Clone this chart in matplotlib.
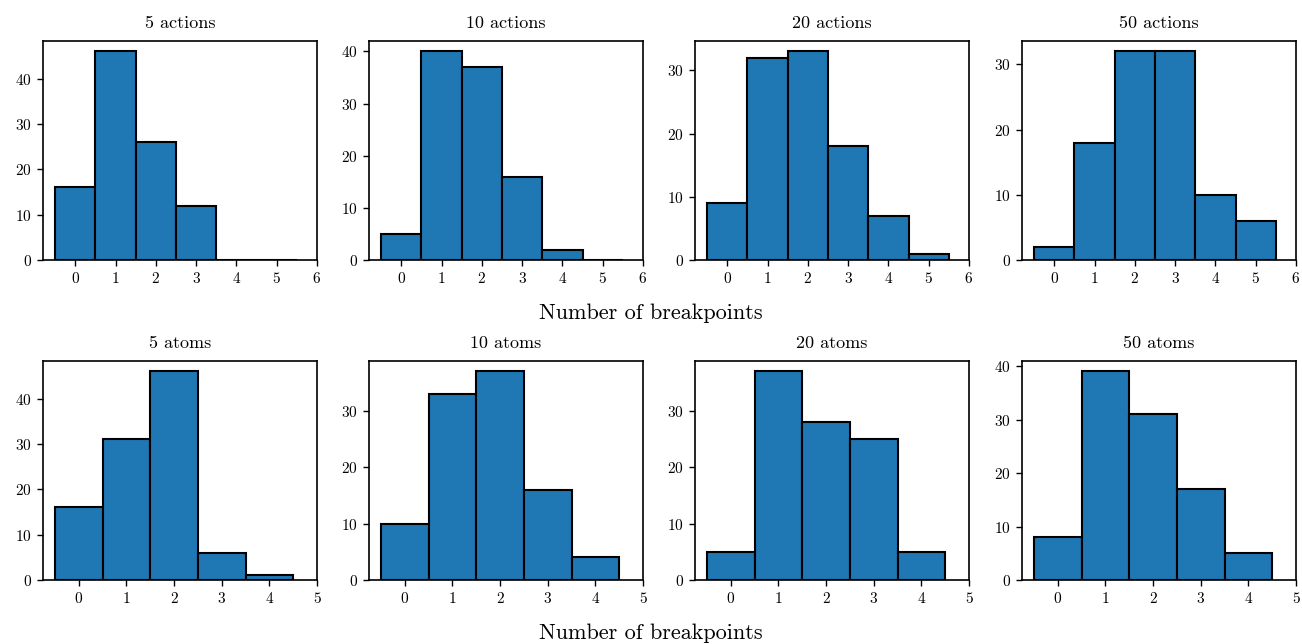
import numpy as np
import matplotlib
matplotlib.use("Agg")
import matplotlib.pyplot as plt

plt.rcParams['font.family'] = ['cmr10', 'DejaVu Serif']
plt.rcParams['mathtext.fontset'] = 'cm'
plt.rcParams['axes.formatter.use_mathtext'] = True

# breakpoint counts per setting
action_titles = ["5 actions", "10 actions", "20 actions", "50 actions"]
action_counts = [
    [16, 46, 26, 12, 0, 0],
    [5, 40, 37, 16, 2, 0],
    [9, 32, 33, 18, 7, 1],
    [2, 18, 32, 32, 10, 6],
]

atom_titles = ["5 atoms", "10 atoms", "20 atoms", "50 atoms"]
atom_counts = [
    [16, 31, 46, 6, 1],
    [10, 33, 37, 16, 4],
    [5, 37, 28, 25, 5],
    [8, 39, 31, 17, 5],
]

W, H = 1302, 644
fig = plt.figure(figsize=(W / 100, H / 100), dpi=100)

lefts = [43, 369, 695, 1022]
width = 274
rows = [(41, 260), (361, 580)]


def draw(ax, counts, title):
    x = np.arange(len(counts))
    ax.bar(x, counts, width=1.0, color='#1f77b4', edgecolor='black', linewidth=1.5)
    ax.set_xticks(np.arange(len(counts) + 1))
    ax.set_title(title, fontsize=13, pad=9)
    ax.tick_params(labelsize=11, direction='out', length=4, width=1, pad=4)
    ax.yaxis.set_major_locator(matplotlib.ticker.MultipleLocator(10))
    for s in ax.spines.values():
        s.set_linewidth(1.2)


for r, (titles, data) in enumerate([(action_titles, action_counts), (atom_titles, atom_counts)]):
    top, bot = rows[r]
    for c in range(4):
        ax = fig.add_axes([lefts[c] / W, 1 - bot / H, width / W, (bot - top) / H])
        draw(ax, data[c], titles[c])
    fig.text(0.5, 1 - (bot + 53) / H, "Number of breakpoints", ha='center', va='center', fontsize=16)

plt.savefig("out.png", dpi=100)
